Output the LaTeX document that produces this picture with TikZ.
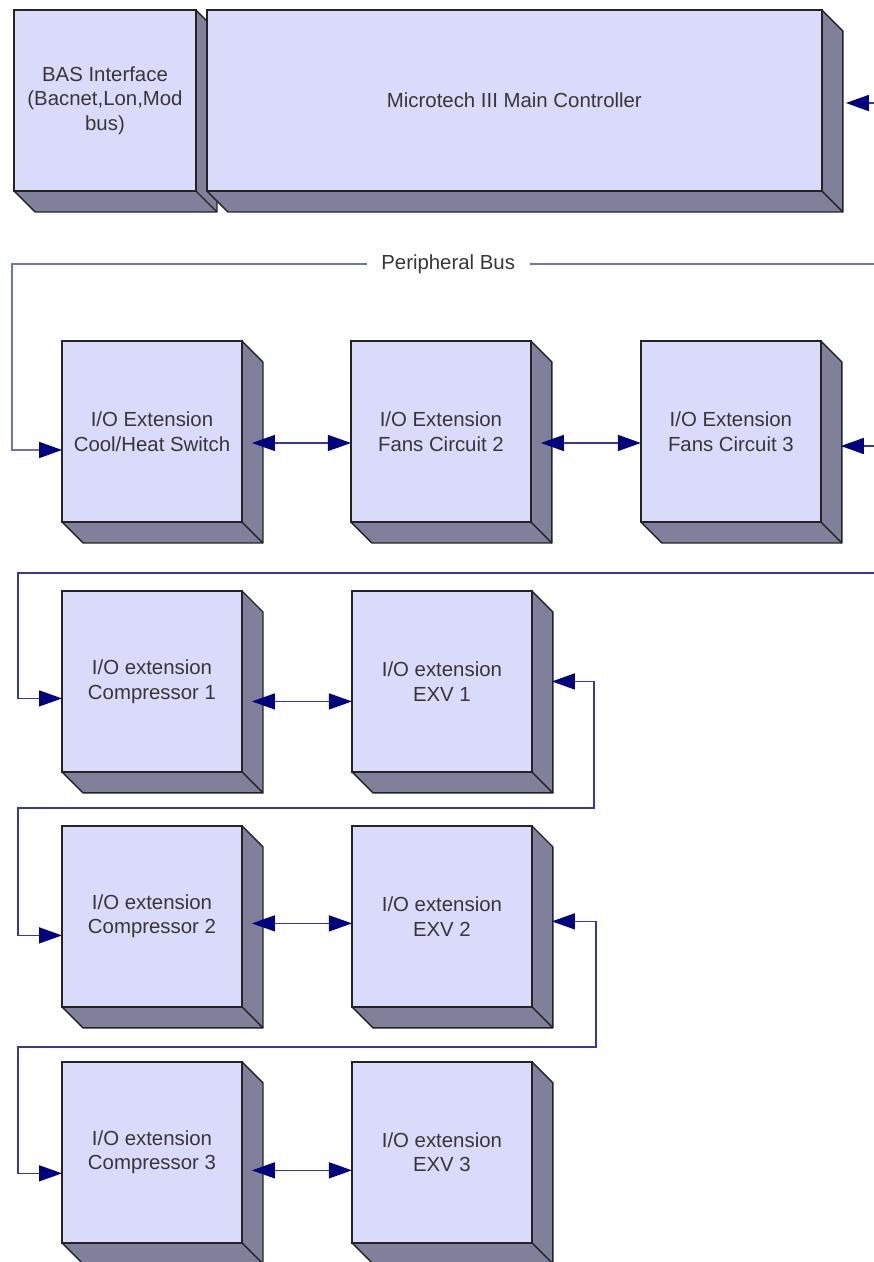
\documentclass[tikz,border=0pt]{standalone}
\usepackage{fontspec}
\setmainfont{Liberation Sans}
\usepackage{tikz}
\usetikzlibrary{arrows.meta,backgrounds,calc,positioning}
\definecolor{facefill}{RGB}{218,218,250}
\definecolor{sidefill}{RGB}{128,128,155}
\definecolor{edgecol}{RGB}{35,35,35}
\definecolor{busblue}{RGB}{112,112,192}
\definecolor{wireblue}{RGB}{55,55,165}
\definecolor{tipnavy}{RGB}{0,0,128}
\definecolor{textgray}{RGB}{55,55,55}

\begin{document}
\begin{tikzpicture}[x=0.02cm,y=-0.02cm,
  >={Triangle[length=0.46cm,width=0.32cm,color=tipnavy]},
  iobox/.style={draw=edgecol,line width=0.8pt,fill=facefill,minimum width=3.6cm,minimum height=3.62cm,
    inner sep=2pt,outer sep=0pt,align=center,text=textgray,font=\fontsize{11.6}{14}\selectfont},
  sideface/.style={draw=edgecol,line width=0.8pt,fill=sidefill,line join=round},
  pbus/.style={draw=busblue,line width=1pt,->},
  bus/.style={draw=wireblue,line width=0.8pt,->},
  returnline/.style={draw=wireblue,line width=0.8pt,<->},
  link/.style={draw=wireblue,line width=0.8pt,<->},
  buslabel/.style={fill=white,inner xsep=0.29cm,inner ysep=1pt,text=textgray,font=\fontsize{11.6}{14}\selectfont}]
\useasboundingbox (0,0) rectangle (874,1262);
\node[iobox,anchor=north west,minimum width=3.64cm] (bas) at (14,10) {BAS Interface\\(Bacnet,Lon,Mod\\bus)};
\node[iobox,minimum width=12.3cm,right=0.22cm of bas] (main) {Microtech III Main Controller};
\node[iobox,anchor=north west] (cool) at (62,341) {I/O Extension\\Cool/Heat Switch};
\node[iobox,right=2.18cm of cool] (fan2) {I/O Extension\\Fans Circuit 2};
\node[iobox,right=2.2cm of fan2] (fan3) {I/O Extension\\Fans Circuit 3};
\node[iobox,below=1.38cm of cool] (comp1) {I/O extension\\Compressor 1};
\node[iobox,right=2.2cm of comp1] (exv1) {I/O extension\\EXV 1};
\node[iobox,below=1.08cm of comp1] (comp2) {I/O extension\\Compressor 2};
\node[iobox,right=2.2cm of comp2] (exv2) {I/O extension\\EXV 2};
\node[iobox,below=1.1cm of comp2] (comp3) {I/O extension\\Compressor 3};
\node[iobox,right=2.2cm of comp3] (exv3) {I/O extension\\EXV 3};
\begin{scope}[on background layer]
\foreach \b in {bas,main,cool,fan2,fan3,comp1,exv1,comp2,exv2,comp3,exv3}{
  \filldraw[sideface] (\b.north east) -- ++(21,21) -- ($(\b.south east)+(21,21)$) -- ($(\b.south west)+(21,21)$) -- (\b.south west) -- (\b.south east) -- cycle;
  \draw[sideface] (\b.south east) -- ++(21,21);
}
\end{scope}
\coordinate (mainfeed) at (874,103);
\coordinate (fanfeed) at (874,446);
\coordinate (pbusR) at (874,264);
\coordinate (pbusL) at (12,264);
\coordinate (bus2R) at (874,573);
\coordinate (bus2L) at (18,573);
\coordinate (ret1) at (18,808);
\coordinate (ret2) at (18,1047);
\draw[bus] (mainfeed) -- ($(main.east |- mainfeed)+(24,0)$);
\draw[pbus] (pbusR) -- node[buslabel,pos=0.494] (pbuslbl) {Peripheral Bus} (pbusL) |- ($(cool.west)+(0,18.5)$);
\draw[link] ($(cool.east)+(10,11.5)$) -- ($(fan2.west)+(0,11.5)$);
\draw[link] ($(fan2.east)+(10,11.5)$) -- ($(fan3.west)+(0,11.5)$);
\draw[bus] (fanfeed) -- ($(fan3.east |- fanfeed)+(20,0)$);
\draw[bus] (bus2R) -- (bus2L) |- ($(comp1.west)+(0,17)$);
\draw[link] ($(comp1.east)+(10,20)$) -- ($(exv1.west)+(0,20)$);
\draw[returnline] ($(exv1.east)+(20,0)$) -- ++(42,0) |- (ret1) |- ($(comp2.west)+(0,19)$);
\draw[link] ($(comp2.east)+(10,7)$) -- ($(exv2.west)+(0,7)$);
\draw[returnline] ($(exv2.east)+(20,5)$) -- ++(44,0) |- (ret2) |- ($(comp3.west)+(0,21)$);
\draw[link] ($(comp3.east)+(10,18)$) -- ($(exv3.west)+(0,18)$);
\end{tikzpicture}
\end{document}
